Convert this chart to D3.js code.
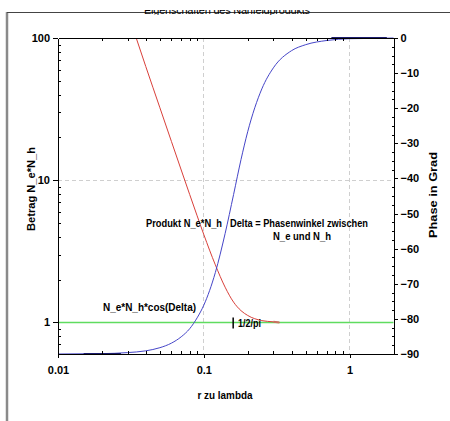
<!DOCTYPE html>
<html>
<head>
<meta charset="utf-8">
<script src="https://cdn.jsdelivr.net/npm/d3@7"></script>
<style>
  body { margin: 0; background: #fff; }
  text { font-family: "Liberation Sans", Arial, sans-serif; fill: #000; font-weight: bold; }
</style>
</head>
<body>
<div id="chart"></div>
<script>
// Daten
const phaseX = [0.01, 0.02, 0.03, 0.04, 0.05, 0.06, 0.07, 0.08, 0.09, 0.1, 0.12, 0.14, 0.16, 0.18, 0.2, 0.25, 0.3, 0.4, 0.5, 0.7, 1, 1.5, 2];
const phaseY = [-90, -89.9, -89.6, -89.1, -88.2, -86.9, -85.1, -82.8, -79.7, -76.1, -66.8, -55.7, -44.6, -34.6, -26.7, -14.5, -8.5, -3.6, -1.9, -0.7, -0.2, -0.1, 0];
const betragX = [0.0344, 0.04, 0.05, 0.06, 0.07, 0.08, 0.09, 0.1, 0.12, 0.14, 0.16, 0.18, 0.2, 0.25, 0.3, 0.33];
const betragY = [100, 63, 32.3, 18.7, 11.8, 7.94, 5.62, 4.15, 2.54, 1.77, 1.39, 1.21, 1.12, 1.03, 1.01, 1.0];
const cosX = [0.01, 2];
const cosY = [1, 1];
const halbPi = 0.159;   // 1/2/pi

const xTicks = [0.01, 0.1, 1];
const xLabels = ["0.01", "0.1", "1"];
const yLeftTicks = [1, 10, 100];
const yRightTicks = [0, -10, -20, -30, -40, -50, -60, -70, -80, -90];

const width = 450, height = 421;
const margin = { top: 38, right: 56.5, bottom: 67, left: 58 };

const svg = d3.select("#chart")
  .append("svg")
  .attr("width", width)
  .attr("height", height);

// Rahmen
svg.append("line").attr("x1", 7).attr("x2", 7).attr("y1", 12).attr("y2", height)
  .attr("stroke", "#8a8a8a").attr("stroke-width", 2.5);
svg.append("line").attr("x1", 7).attr("x2", width).attr("y1", 12.5).attr("y2", 12.5)
  .attr("stroke", "#444").attr("stroke-width", 1);

// abgeschnittener Titel
svg.append("clipPath").attr("id", "titleclip")
  .append("rect").attr("x", 0).attr("y", 10).attr("width", width).attr("height", 5);
svg.append("text")
  .attr("clip-path", "url(#titleclip)")
  .attr("x", 227).attr("y", 14)
  .attr("text-anchor", "middle")
  .attr("textLength", 166)
  .style("font-size", "11px")
  .style("font-weight", "normal")
  .attr("fill", "#333")
  .text("Eigenschaften des Nahfeldprodukts");

const x = d3.scaleLog().domain([0.01, 2]).range([margin.left, width - margin.right]);
const yL = d3.scaleLog().domain([0.6, 100]).range([height - margin.bottom, margin.top]);
const yR = d3.scaleLinear().domain([-90, 0]).range([height - margin.bottom, margin.top]);

const x0 = margin.left, x1 = width - margin.right;
const y0 = height - margin.bottom, y1 = margin.top;

// Gitterlinien
const grid = svg.append("g").attr("stroke", "#cfcfcf").attr("stroke-dasharray", "4,3")
  .attr("shape-rendering", "crispEdges");
[0.1, 1].forEach(v => grid.append("line")
  .attr("x1", x(v)).attr("x2", x(v)).attr("y1", y1).attr("y2", y0));
grid.append("line").attr("x1", x0).attr("x2", x1).attr("y1", yL(10)).attr("y2", yL(10));

// Kurven
const cosLine = d3.line().x(d => x(d[0])).y(d => yL(d[1]));
svg.append("path")
  .datum(d3.zip(cosX, cosY))
  .attr("d", cosLine)
  .attr("fill", "none").attr("stroke", "#5fdc5f").attr("stroke-width", 1.6);

const betragLine = d3.line().x(d => x(d[0])).y(d => yL(d[1])).curve(d3.curveMonotoneX);
svg.append("path")
  .datum(d3.zip(betragX, betragY))
  .attr("d", betragLine)
  .attr("fill", "none").attr("stroke", "#d9403a").attr("stroke-width", 1);
// dickeres Ende der roten Kurve
svg.append("path")
  .datum(d3.zip(betragX, betragY).filter(d => d[0] >= 0.27))
  .attr("d", betragLine)
  .attr("fill", "none").attr("stroke", "#c8705f").attr("stroke-width", 2);

const phaseLine = d3.line().x(d => x(d[0])).y(d => yR(d[1])).curve(d3.curveMonotoneX);
svg.append("path")
  .datum(d3.zip(phaseX, phaseY))
  .attr("d", phaseLine)
  .attr("fill", "none").attr("stroke", "#4545c8").attr("stroke-width", 1);
// dunkle Abschnitte
[[0.015, 0.027, -90], [0.75, 1.8, 0]].forEach(s => svg.append("line")
  .attr("x1", x(s[0])).attr("x2", x(s[1]))
  .attr("y1", yR(s[2])).attr("y2", yR(s[2]))
  .attr("stroke", "#1c1c6e").attr("stroke-width", 2));

// Achsen
function styleAxis(g) {
  g.selectAll("path, line").attr("stroke", "#000").attr("shape-rendering", "crispEdges");
  g.selectAll("text").style("font-size", "11px").attr("fill", "#000");
}

const xMinor = [0.02, 0.03, 0.04, 0.05, 0.06, 0.07, 0.08, 0.09, 0.2, 0.3, 0.4, 0.5, 0.6, 0.7, 0.8, 0.9];
const yMinor = [0.7, 0.8, 0.9, 2, 3, 4, 5, 6, 7, 8, 9, 20, 30, 40, 50, 60, 70, 80, 90];
const rMinor = d3.range(-87.5, 0, 2.5).filter(v => v % 10 !== 0);

svg.append("g")
  .attr("transform", `translate(0,${y0})`)
  .call(d3.axisBottom(x).tickValues(xTicks).tickFormat((d, i) => xLabels[i]).tickSizeInner(4).tickSizeOuter(0).tickPadding(8))
  .call(styleAxis)
  .call(g => g.select(".domain").remove());
svg.append("g")
  .attr("transform", `translate(0,${y0})`)
  .call(d3.axisTop(x).tickValues(xMinor).tickFormat("").tickSizeInner(3).tickSizeOuter(0))
  .call(styleAxis);
svg.append("g")
  .attr("transform", `translate(0,${y1})`)
  .call(d3.axisBottom(x).tickValues(xMinor).tickFormat("").tickSizeInner(3).tickSizeOuter(0))
  .call(styleAxis);

svg.append("g")
  .attr("transform", `translate(${x0},0)`)
  .call(d3.axisLeft(yL).tickValues(yLeftTicks).tickFormat(d3.format("d")).tickSizeInner(5).tickSizeOuter(0).tickPadding(3))
  .call(styleAxis);
svg.append("g")
  .attr("transform", `translate(${x0},0)`)
  .call(d3.axisRight(yL).tickValues(yMinor).tickFormat("").tickSizeInner(3).tickSizeOuter(0))
  .call(styleAxis)
  .call(g => g.select(".domain").remove());

svg.append("g")
  .attr("transform", `translate(${x1},0)`)
  .call(d3.axisRight(yR).tickValues(yRightTicks).tickFormat(d3.format("d")).tickSizeInner(4).tickSizeOuter(0).tickPadding(3))
  .call(styleAxis);
svg.append("g")
  .attr("transform", `translate(${x1},0)`)
  .call(d3.axisLeft(yR).tickValues(rMinor).tickFormat("").tickSizeInner(2).tickSizeOuter(0))
  .call(styleAxis)
  .call(g => g.select(".domain").remove());

// Achsentitel
const titles = [
  { t: "r zu lambda", x: 225, y: 399, r: 0, w: 55 },
  { t: "Betrag N_e*N_h", x: 35, y: 189, r: -90, w: 84 },
  { t: "Phase in Grad", x: 437, y: 195, r: -90, w: 86 }
];
svg.selectAll("text.title")
  .data(titles)
  .enter()
  .append("text")
  .attr("class", "title")
  .attr("text-anchor", "middle")
  .attr("transform", d => `translate(${d.x},${d.y}) rotate(${d.r})`)
  .attr("textLength", d => d.w)
  .attr("lengthAdjust", "spacingAndGlyphs")
  .style("font-size", "11px")
  .text(d => d.t);

// Beschriftungen im Diagramm
const notes = [
  { t: "Produkt N_e*N_h", x: 146, y: 227, w: 76 },
  { t: "Delta = Phasenwinkel zwischen", x: 230, y: 227, w: 138 },
  { t: "N_e und N_h", x: 273, y: 240, w: 58 },
  { t: "N_e*N_h*cos(Delta)", x: 103, y: 311, w: 93 },
  { t: "1/2/pi", x: 238, y: 327, w: 23 }
];
svg.selectAll("text.note")
  .data(notes)
  .enter()
  .append("text")
  .attr("class", "note")
  .attr("x", d => d.x).attr("y", d => d.y)
  .attr("textLength", d => d.w)
  .attr("lengthAdjust", "spacingAndGlyphs")
  .style("font-size", "11px")
  .text(d => d.t);

// Markierung bei 1/2/pi
svg.append("line")
  .attr("x1", x(halbPi)).attr("x2", x(halbPi))
  .attr("y1", yL(1) - 5).attr("y2", yL(1) + 6)
  .attr("stroke", "#000").attr("stroke-width", 1.5);
</script>
</body>
</html>
